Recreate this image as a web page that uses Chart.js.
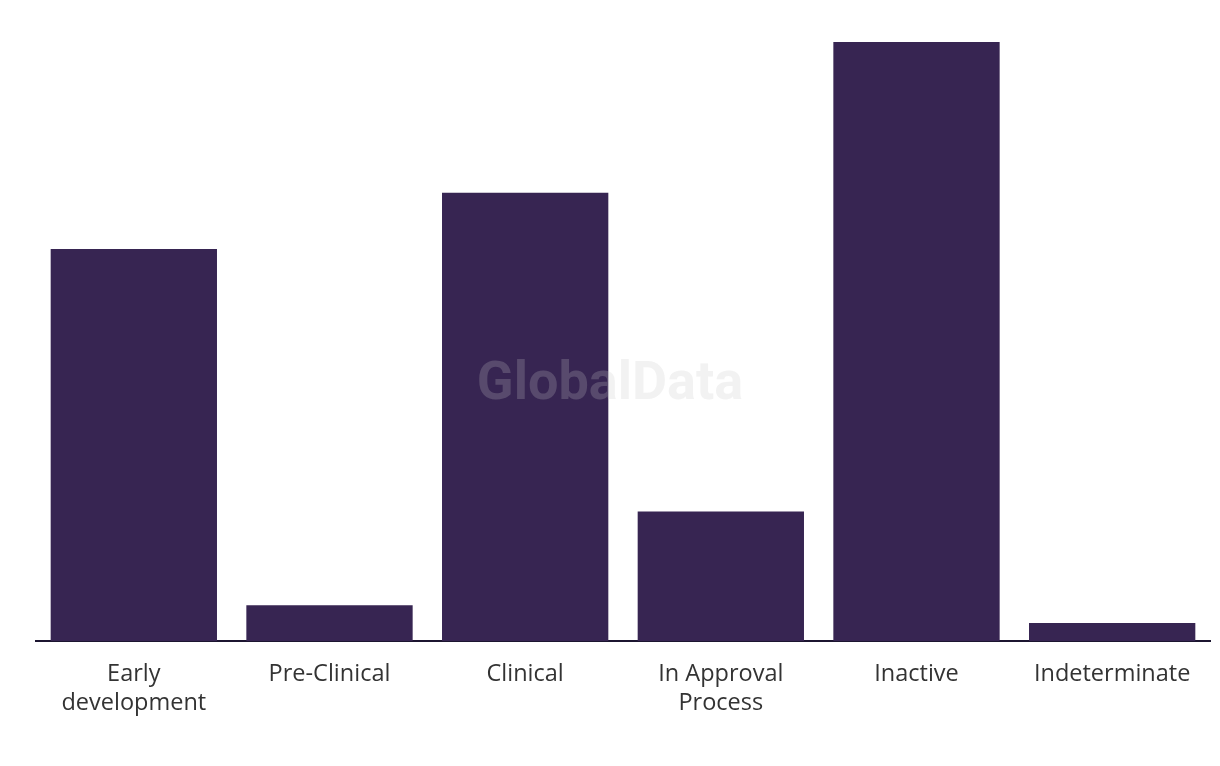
<!DOCTYPE html>
<html>
<head>
<meta charset="utf-8">
<script src="https://cdn.jsdelivr.net/npm/chart.js@4"></script>
<style>
  html, body { margin: 0; padding: 0; background: #fff; }
  #wrap { width: 1220px; height: 766px; }
</style>
</head>
<body>
<div id="wrap"><canvas id="myChart"></canvas></div>
<script>
// categories (wrapped the way the picture shows them)
const categories = [
  ["Early", "development"],
  "Pre-Clinical",
  "Clinical",
  ["In Approval", "Process"],
  "Inactive",
  "Indeterminate",
];
// values
const values = [46, 4.2, 52.6, 15.2, 70.3, 2.1];
const yMax = 75;

const barColor = "#372552";

// watermark drawn on top of the bars
const watermark = {
  id: "watermark",
  afterDraw(chart) {
    const c = chart.ctx;
    c.save();
    c.font = "bold 54px 'Roboto', 'Liberation Sans', sans-serif";
    c.fillStyle = "rgba(200, 200, 200, 0.23)";
    c.textAlign = "center";
    c.textBaseline = "middle";
    c.fillText("GlobalData", 610, 385);
    c.restore();
  },
};

const ctx = document.getElementById("myChart");
const myChart = new Chart(ctx, {
  type: "bar",
  data: {
    labels: categories,
    datasets: [
      {
        data: values,
        backgroundColor: barColor,
        borderWidth: 0,
        barPercentage: 0.85,
        categoryPercentage: 1,
      },
    ],
  },
  options: {
    responsive: true,
    maintainAspectRatio: false,
    animation: false,
    layout: { padding: { left: 36, right: 10, top: 2, bottom: 0 } },
    plugins: {
      legend: { display: false },
      tooltip: { enabled: false },
    },
    scales: {
      x: {
        grid: { display: false, drawTicks: false },
        border: { display: true, color: "#1c1530", width: 2 },
        ticks: {
          color: "#333333",
          padding: 18,
          maxRotation: 0,
          autoSkip: false,
          font: {
            family: "'Open Sans', 'Noto Sans', sans-serif",
            size: 23.5,
            lineHeight: 1.27,
          },
        },
        afterFit(scale) {
          scale.height = 125;
        },
      },
      y: {
        display: false,
        beginAtZero: true,
        min: 0,
        max: yMax,
      },
    },
  },
  plugins: [watermark],
});
</script>
</body>
</html>
